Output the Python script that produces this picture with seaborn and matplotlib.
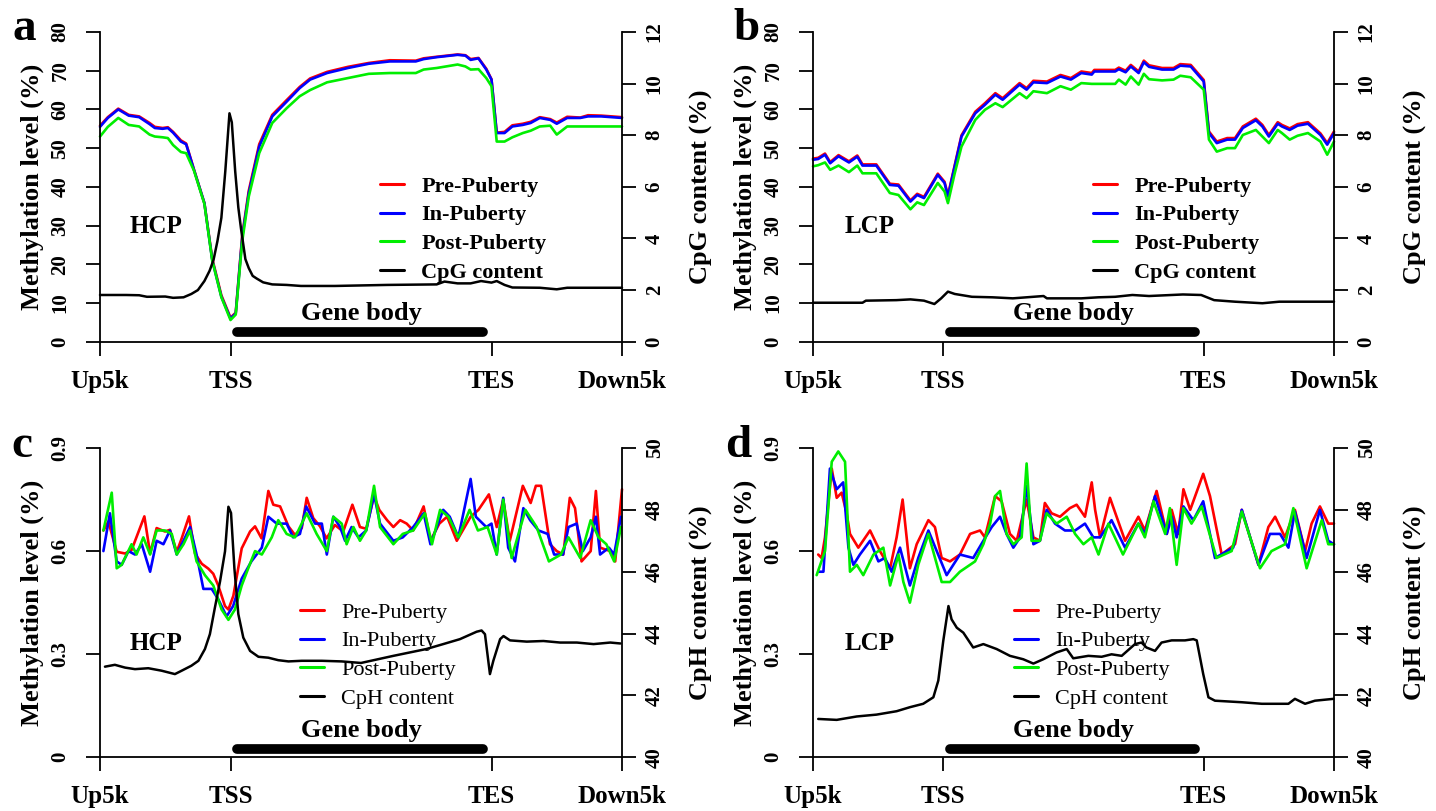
import matplotlib
matplotlib.use("Agg")
import matplotlib.pyplot as plt
import seaborn as sns
from matplotlib.lines import Line2D

# ---------------- DATA ----------------
x_tick_pos = [0, 50, 150, 200]
x_tick_labels = ["Up5k", "TSS", "TES", "Down5k"]
series_names = ["Pre-Puberty", "In-Puberty", "Post-Puberty"]
series_colors = ["#FF0000", "#0000FF", "#00EE00"]
gene_body = [52.5, 146.8]

# Panel a (HCP, CpG)
a_x = [0, 3, 7, 11, 15, 19, 21, 24, 26, 28, 31, 33, 36, 40, 43, 46.5, 50, 52, 54.5, 57, 61, 66, 71.5,
       76.5, 80.5, 87, 95, 103, 111, 121, 124, 129, 137, 140, 142, 145, 148, 150, 152, 155, 158, 162,
       165, 168.5, 172.5, 175, 179, 184, 187, 192, 200]
a_pre = [55.8, 58, 60.2, 58.6, 58.2, 56.5, 55.5, 55.2, 55.4, 54.2, 52, 51.2, 44.5, 35.8, 21.5, 12, 6.2,
         7.5, 27.5, 39, 51, 58.6, 62.4, 65.8, 68, 69.7, 71, 72, 72.7, 72.6, 73.2, 73.6, 74.2, 74, 73,
         73.3, 70.5, 67.8, 54, 54.2, 55.9, 56.3, 56.8, 58, 57.5, 56.6, 58.1, 57.9, 58.5, 58.4, 58]
a_in = [55.5, 57.8, 60, 58.4, 58, 56.2, 55.2, 55, 55.2, 54, 51.7, 51, 44.4, 35.8, 21.1, 11.6, 6, 7.3,
        27, 38.4, 50.4, 58.2, 62, 65.5, 67.7, 69.4, 70.7, 71.8, 72.4, 72.4, 73, 73.5, 74.1, 73.9, 72.8,
        73.2, 70.3, 67.7, 53.9, 53.9, 55.6, 56, 56.5, 57.8, 57.3, 56.3, 57.8, 57.8, 58.2, 58.2, 57.8]
a_post = [53, 55.5, 57.8, 56, 55.6, 53.5, 53, 52.8, 52.6, 50.8, 49, 48.7, 44.2, 35.6, 21, 11.5, 5.6, 7,
          26, 37.5, 48.7, 56.5, 60.3, 63.4, 65, 67, 68.1, 69.2, 69.4, 69.4, 70.3, 70.7, 71.6, 71.1,
          70.3, 70.4, 68.1, 66, 51.7, 51.7, 52.8, 53.9, 54.5, 55.6, 55.8, 53.5, 55.6, 55.6, 55.6, 55.6,
          55.6]
a_cpg_x = [0, 10, 15, 18, 25, 28, 32, 35, 37.5, 40, 42, 43.5, 45, 46.5, 48, 49.6, 50.5, 51.8, 53, 54,
           55.7, 57, 58.5, 60, 62.5, 66, 71.5, 77, 90, 110, 129, 132, 137, 142, 146, 150, 152, 155,
           158, 168.5, 175, 179, 200]
a_cpg = [1.81, 1.81, 1.80, 1.74, 1.75, 1.70, 1.72, 1.85, 2.0, 2.35, 2.75, 3.17, 3.9, 4.8, 6.6, 8.85,
         8.5, 6.6, 5.2, 4.4, 3.2, 2.85, 2.55, 2.45, 2.3, 2.22, 2.2, 2.16, 2.16, 2.2, 2.22, 2.33, 2.26,
         2.26, 2.35, 2.29, 2.35, 2.2, 2.1, 2.09, 2.03, 2.09, 2.09]

# Panel b (LCP, CpG)
b_x = [0, 2, 4.6, 6.6, 9.8, 13.8, 17, 19, 24.3, 29.5, 32.8, 37.4, 40, 42.6, 47.9, 50.5, 51.8, 54.4,
       57, 62.3, 66, 70, 72.8, 79.3, 82, 84.6, 89.8, 95, 99, 103, 107, 108, 116, 117.4, 120, 122,
       125, 127, 129, 134, 138.4, 141, 145, 150, 152, 155, 159, 162, 165, 170, 172.5, 175, 178.4,
       180, 183, 186, 190, 194.8, 197.4, 200]
b_pre = [47.3, 47.5, 48.6, 46.4, 48.2, 46.6, 48.1, 45.8, 45.8, 40.8, 40.6, 36.5, 38.2, 37.4, 43.4,
         41.3, 37.8, 45.6, 53.3, 59.4, 61.6, 64.2, 62.9, 66.8, 65.5, 67.4, 67.2, 68.9, 68.1, 69.8,
         69.4, 70.2, 70.2, 70.8, 70, 71.5, 69.8, 72.6, 71.4, 70.7, 70.7, 71.7, 71.5, 67.6, 54.3, 51.7,
         52.6, 52.6, 55.6, 57.6, 56, 53.4, 56.7, 56, 55.1, 56.2, 56.7, 53.8, 51.3, 54.3]
b_in = [47, 47.2, 48.3, 46.1, 47.9, 46.3, 47.8, 45.5, 45.5, 40.5, 40.3, 36.2, 37.9, 37.1, 43.1, 41,
        37.5, 45.3, 53, 59, 61.2, 63.8, 62.5, 66.4, 65.1, 67, 66.8, 68.5, 67.7, 69.4, 69, 69.8, 69.8,
        70.4, 69.6, 71.1, 69.4, 72.2, 71, 70.3, 70.3, 71.3, 71.1, 67.2, 53.9, 51.3, 52.2, 52.2, 55.2,
        57.2, 55.6, 53, 56.3, 55.6, 54.7, 55.8, 56.3, 53.4, 50.9, 53.9]
b_post = [45.3, 45.6, 46.3, 44.4, 45.5, 43.8, 45.5, 43.5, 43.5, 38.4, 37.9, 34.2, 36, 35.3, 41, 38.8,
          35.8, 43.5, 50.4, 57.3, 59.9, 61.6, 60.6, 64.2, 62.9, 64.7, 64.2, 66, 65.1, 66.8, 66.6,
          66.6, 66.6, 67.7, 66.4, 68.5, 66.4, 69.2, 67.8, 67.5, 67.7, 68.7, 68.3, 65.1, 52.2, 49.1,
          50, 50, 53.4, 54.7, 53, 51.3, 54.7, 53.9, 52.2, 53.2, 53.9, 51.7, 48.3, 51.7]
b_cpg_x = [0, 19, 20.3, 32, 37.4, 42.6, 46.6, 49.2, 51.8, 54.4, 61, 68.9, 76.7, 88.5, 89.8, 103,
           109.5, 116, 122.6, 129, 142, 149, 154, 162, 172.5, 179, 200]
b_cpg = [1.51, 1.51, 1.59, 1.61, 1.64, 1.59, 1.46, 1.68, 1.94, 1.85, 1.74, 1.72, 1.68, 1.77, 1.68,
         1.68, 1.72, 1.74, 1.81, 1.77, 1.83, 1.81, 1.61, 1.55, 1.49, 1.55, 1.55]

# Panel c (HCP, CpH)
c_pre_x = [1.3, 3.2, 6.4, 9.6, 12.1, 17, 19.2, 21.7, 24.9, 26.8, 29.4, 31.3, 34.1, 36.4, 39, 41.5,
           43.4, 45.3, 47.9, 49.2, 51.1, 54.3, 57.5, 59.4, 61.9, 64.5, 66.4, 69, 72.2, 74.7, 77.3,
           79.2, 81.7, 84.3, 86.8, 90, 93.2, 96.7, 99.6, 102, 105, 107, 110, 112.4, 115, 117.5, 120,
           124, 126.6, 130, 133, 136.7, 142, 145, 149, 152, 154.5, 157, 162, 165, 167, 169, 172.4,
           175, 177.5, 180, 182, 184.5, 188, 190, 191.6, 195.5, 197.4, 200]
c_pre = [0.66, 0.686, 0.598, 0.593, 0.603, 0.701, 0.593, 0.667, 0.657, 0.662, 0.598, 0.637, 0.701,
         0.593, 0.563, 0.549, 0.534, 0.5, 0.44, 0.43, 0.47, 0.608, 0.657, 0.672, 0.637, 0.775,
         0.735, 0.73, 0.672, 0.647, 0.667, 0.755, 0.696, 0.672, 0.637, 0.676, 0.657, 0.735, 0.67,
         0.665, 0.76, 0.72, 0.69, 0.67, 0.69, 0.68, 0.66, 0.73, 0.63, 0.68, 0.70, 0.63, 0.70, 0.72,
         0.765, 0.67, 0.75, 0.63, 0.79, 0.74, 0.79, 0.79, 0.62, 0.60, 0.59, 0.755, 0.725, 0.57,
         0.60, 0.775, 0.61, 0.60, 0.57, 0.78]
c_in_x = [1.3, 3.8, 6.4, 8.3, 10.9, 13.4, 16, 19.2, 21.7, 24.3, 26.8, 29.4, 32, 34.5, 37, 39.6, 42.8,
          45.3, 48.5, 51, 54.3, 58, 62, 64.5, 67.7, 71.5, 74, 76.6, 79, 82.4, 85, 86.9, 89.4, 92,
          93.9, 96.4, 99, 102, 105, 107.3, 112.4, 116, 120, 124, 126.6, 131.5, 134, 137.3, 142, 144,
          148, 150, 152, 154.5, 156.4, 159, 162.2, 164.8, 168, 171.5, 174, 177.4, 179.5, 182.6, 185,
          188, 190, 191.6, 195, 197, 199.6]
c_in = [0.60, 0.71, 0.57, 0.56, 0.60, 0.59, 0.62, 0.54, 0.63, 0.62, 0.66, 0.59, 0.63, 0.67, 0.59,
        0.49, 0.49, 0.46, 0.41, 0.44, 0.52, 0.57, 0.61, 0.70, 0.68, 0.68, 0.64, 0.65, 0.73, 0.68,
        0.68, 0.59, 0.70, 0.67, 0.63, 0.67, 0.64, 0.66, 0.765, 0.68, 0.63, 0.64, 0.67, 0.71, 0.62,
        0.72, 0.70, 0.64, 0.81, 0.70, 0.67, 0.68, 0.59, 0.755, 0.61, 0.57, 0.725, 0.69, 0.66, 0.65,
        0.59, 0.59, 0.67, 0.68, 0.60, 0.64, 0.70, 0.59, 0.61, 0.59, 0.70]
c_post_x = [1.3, 4.5, 6.4, 8.3, 12.1, 14, 16.6, 19.2, 21.7, 24.9, 27.5, 29.4, 32, 34.5, 37, 40.2,
            43.4, 46.6, 49.2, 51.7, 54.3, 56.8, 59.4, 62, 65.8, 68.3, 71.5, 74.7, 79.2, 83, 86.9,
            89.4, 92.6, 94.5, 97.1, 99.6, 102, 105, 107.3, 112.4, 116, 120, 124.5, 127.2, 130.3,
            133.5, 137.3, 141.6, 144.8, 148.5, 152, 154.5, 157.7, 163, 167.3, 172, 176.6, 179.5,
            184, 188, 191, 194, 197, 199.6]
c_post = [0.66, 0.77, 0.55, 0.56, 0.62, 0.59, 0.64, 0.59, 0.66, 0.66, 0.65, 0.59, 0.62, 0.66, 0.57,
          0.53, 0.50, 0.43, 0.40, 0.43, 0.50, 0.55, 0.60, 0.59, 0.64, 0.69, 0.65, 0.64, 0.71, 0.65,
          0.60, 0.70, 0.68, 0.62, 0.67, 0.63, 0.66, 0.79, 0.67, 0.62, 0.65, 0.66, 0.71, 0.62, 0.72,
          0.70, 0.64, 0.72, 0.66, 0.67, 0.59, 0.75, 0.58, 0.72, 0.67, 0.57, 0.59, 0.64, 0.58, 0.69,
          0.64, 0.62, 0.57, 0.67]
c_cph_x = [1.9, 5.7, 9.6, 13.4, 18.5, 23.6, 28.7, 31.3, 35, 37.7, 40.2, 42.1, 44, 46, 47.9, 49.2,
           50.2, 51.5, 53, 54.9, 57.5, 60.7, 64.5, 68.3, 72.2, 77.3, 85, 92.6, 100, 112.4, 125,
           131.5, 137.9, 144.3, 146.2, 147.5, 149.4, 150.7, 153.3, 154.6, 157.1, 163.5, 169.9,
           176.3, 182.7, 189.1, 195.5, 199.4]
c_cph = [42.93, 42.99, 42.9, 42.85, 42.88, 42.8, 42.69, 42.8, 42.96, 43.12, 43.5, 43.98, 44.83,
         45.69, 46.66, 48.1, 47.9, 46.1, 44.63, 43.87, 43.44, 43.25, 43.22, 43.14, 43.1, 43.12,
         43.12, 43.1, 43.05, 43.28, 43.5, 43.66, 43.82, 44.06, 44.1, 43.98, 42.69, 43.12, 43.82,
         43.92, 43.78, 43.74, 43.76, 43.71, 43.71, 43.66, 43.71, 43.68]

# Panel d (LCP, CpH)
d_pre_x = [2, 3.3, 4.6, 7.2, 9.1, 11, 12.9, 14.2, 17.4, 21.9, 25.7, 29.6, 32.1, 34.4, 37.2, 39.8,
           44.3, 46.8, 49.4, 52.6, 56.4, 60.3, 64.1, 66, 69.9, 72.4, 75.6, 78.2, 82, 84.6, 87.1, 89,
           91.6, 94.8, 98.6, 101.2, 104.4, 107, 108.3, 110.2, 114, 119.8, 124.9, 127.4, 131.9,
           135.8, 137.7, 140.2, 142.2, 144.8, 149.8, 152.4, 156.9, 162, 164.6, 171, 174.8, 177.4,
           181.2, 185, 188.9, 191.4, 194.6, 197.8, 200]
d_pre = [0.59, 0.58, 0.64, 0.84, 0.755, 0.77, 0.71, 0.65, 0.61, 0.66, 0.60, 0.55, 0.64, 0.75, 0.55,
         0.62, 0.69, 0.67, 0.58, 0.57, 0.59, 0.65, 0.66, 0.64, 0.76, 0.745, 0.65, 0.63, 0.75, 0.64,
         0.63, 0.74, 0.71, 0.70, 0.725, 0.735, 0.70, 0.80, 0.72, 0.64, 0.755, 0.63, 0.70, 0.66,
         0.775, 0.65, 0.72, 0.65, 0.78, 0.72, 0.825, 0.76, 0.59, 0.62, 0.72, 0.56, 0.67, 0.70, 0.64,
         0.72, 0.60, 0.68, 0.73, 0.68, 0.68]
d_in_x = [2, 4, 6.5, 9.1, 11.6, 13.6, 15.5, 18, 21.9, 25.1, 27.6, 30.2, 33.4, 37.2, 40.4, 44.3,
          47.5, 51.3, 56.4, 61.5, 65.4, 68.6, 71.8, 74.3, 76.9, 79.5, 82, 84.6, 87.1, 89.7, 92.9,
          96.7, 100.6, 104.4, 107.6, 110.2, 114.6, 119.8, 124.9, 127.4, 131.3, 135.8, 137.7, 139.6,
          142.2, 146, 149.8, 154.3, 161.3, 164.6, 171, 175.4, 179.3, 182.5, 185, 189.5, 194.6,
          197.8, 200]
d_in = [0.54, 0.54, 0.84, 0.78, 0.80, 0.61, 0.56, 0.59, 0.63, 0.57, 0.58, 0.54, 0.61, 0.50, 0.58,
        0.66, 0.60, 0.53, 0.59, 0.58, 0.63, 0.67, 0.70, 0.65, 0.61, 0.64, 0.79, 0.62, 0.63, 0.72,
        0.68, 0.66, 0.66, 0.68, 0.64, 0.64, 0.69, 0.61, 0.68, 0.65, 0.76, 0.65, 0.70, 0.64, 0.73,
        0.69, 0.745, 0.58, 0.61, 0.72, 0.56, 0.65, 0.65, 0.61, 0.715, 0.58, 0.72, 0.63, 0.62]
d_post_x = [1.4, 4.6, 7.2, 9.7, 12.3, 14.2, 16.8, 19.3, 23.2, 27, 29.6, 32.8, 34.7, 37.2, 40.4, 44.3,
            49.4, 52.6, 56.4, 62.2, 65.4, 68, 69.9, 71.8, 74.3, 76.9, 80.1, 82, 83.9, 87.1, 89.7,
            93.5, 97.4, 100.6, 103.8, 107, 109.6, 113.4, 119, 124.9, 127.4, 130.7, 135.2, 137,
            139.6, 142.2, 145.3, 149.2, 154.9, 160.7, 164.6, 171.6, 176, 181.2, 184.4, 189.5, 195.3,
            197.8, 200]
d_post = [0.53, 0.60, 0.86, 0.89, 0.86, 0.54, 0.56, 0.53, 0.59, 0.61, 0.50, 0.59, 0.51, 0.45, 0.56,
          0.65, 0.51, 0.51, 0.54, 0.57, 0.62, 0.68, 0.76, 0.775, 0.65, 0.62, 0.64, 0.855, 0.63, 0.63,
          0.71, 0.68, 0.70, 0.65, 0.62, 0.64, 0.59, 0.68, 0.59, 0.68, 0.64, 0.745, 0.65, 0.725, 0.56,
          0.725, 0.68, 0.73, 0.58, 0.60, 0.715, 0.55, 0.60, 0.62, 0.725, 0.55, 0.69, 0.62, 0.62]
d_cph_x = [2, 9.1, 16.8, 24.4, 32.1, 37.2, 42.3, 46.2, 48.1, 50, 52, 53.2, 55.2, 57.7, 61.5, 65.4,
           70.5, 75.6, 80.7, 84.6, 88.4, 93.5, 97.4, 99.9, 105.7, 110.8, 114.6, 118.5, 123.6, 126.1,
           128, 131.3, 133.8, 137.7, 142.8, 146, 147.3, 149.8, 151.8, 154.3, 164.6, 172.3, 182.5,
           185, 188.9, 192.7, 199.8]
d_cph = [41.24, 41.21, 41.32, 41.38, 41.49, 41.62, 41.73, 41.94, 42.48, 43.76, 44.89, 44.46, 44.19,
         44.03, 43.55, 43.66, 43.5, 43.28, 43.17, 43.03, 43.17, 43.39, 43.5, 43.2, 43.28, 43.25,
         43.33, 43.28, 43.66, 43.71, 43.55, 43.44, 43.71, 43.78, 43.78, 43.82, 43.78, 42.69, 41.94,
         41.83, 41.78, 41.73, 41.73, 41.89, 41.73, 41.83, 41.89]

# ---------------- STYLE ----------------
sns.set_style("ticks")
plt.rcParams['font.family'] = ['Liberation Serif', 'DejaVu Serif']
plt.rcParams.update({'axes.edgecolor': 'black', 'text.color': 'black', 'xtick.color': 'black',
                     'ytick.color': 'black', 'axes.labelcolor': 'black'})

W, H = 1436, 811
fig = plt.figure(figsize=(W / 100, H / 100), dpi=100)

LW_AX = 1.3
TICK_LEN = 10.3


def add_px_axes(left, right, top, bottom):
    return fig.add_axes([left / W, 1 - bottom / H, (right - left) / W, (bottom - top) / H])


def panel(box, meth, content, ylim_l, yt_l, ytl_l, ylim_r, yt_r, ylabel_r, region,
          region_y, gene_text_y, gene_bar_y, legend_xy, legend_bold, letter, letter_xy,
          rlabel_x, pad_l, pad_r):
    ax = add_px_axes(*box)
    for (xs, ys), col in zip(meth, series_colors):
        sns.lineplot(x=xs, y=ys, ax=ax, color=col, linewidth=1.9, sort=False,
                     estimator=None, legend=False, clip_on=False)
    ax.plot(gene_body, [gene_bar_y, gene_bar_y], color='black', linewidth=7,
            solid_capstyle='round', clip_on=False)
    ax.text(100, gene_text_y, "Gene body", ha='center', va='baseline', fontsize=19,
            fontweight='bold')
    ax.text(21.6, region_y, region, ha='center', va='baseline', fontsize=18, fontweight='bold')

    ax.set_xlim(0, 200)
    ax.set_ylim(*ylim_l)
    ax.set_xticks(x_tick_pos, labels=x_tick_labels, fontsize=18, fontweight='bold')
    ax.set_yticks(yt_l, labels=ytl_l, fontsize=15, fontweight='bold', rotation=90, va='center')
    ax.tick_params(axis='x', direction='out', length=TICK_LEN, width=LW_AX, pad=10)
    ax.tick_params(axis='y', direction='out', length=TICK_LEN, width=LW_AX, pad=pad_l)
    for s in ['top', 'right']:
        ax.spines[s].set_visible(False)
    for s in ['left', 'bottom']:
        ax.spines[s].set_linewidth(LW_AX)
    ax.set_xlabel("")
    ax.set_ylabel("Methylation level (%)", fontsize=19, fontweight='bold')
    ax.yaxis.set_label_coords(-0.107, 0.5)

    ax2 = ax.twinx()
    cx, cy = content
    sns.lineplot(x=cx, y=cy, ax=ax2, color='black', linewidth=1.8, sort=False,
                 estimator=None, legend=False, clip_on=False)
    ax2.set_xlim(0, 200)
    ax2.set_ylim(*ylim_r)
    ax2.set_yticks(yt_r, labels=[str(v) for v in yt_r], fontsize=15, fontweight='bold',
                   rotation=90, va='center')
    ax2.tick_params(axis='y', direction='out', length=TICK_LEN, width=LW_AX, pad=pad_r)
    for s in ['top', 'left', 'bottom']:
        ax2.spines[s].set_visible(False)
    ax2.spines['right'].set_linewidth(LW_AX)
    ax2.set_ylabel(ylabel_r, fontsize=19, fontweight='bold')
    ax2.yaxis.set_label_coords(rlabel_x, 0.5)

    handles = [Line2D([], [], color=c, linewidth=2.2) for c in series_colors]
    handles.append(Line2D([], [], color='black', linewidth=2.2))
    labels = series_names + [ylabel_r.replace(" (%)", "")]
    ax.legend(handles, labels, loc='upper left',
              bbox_to_anchor=(legend_xy[0] / W, 1 - legend_xy[1] / H),
              bbox_transform=fig.transFigure, frameon=False, borderpad=0, borderaxespad=0,
              handlelength=1.1, handletextpad=0.75, labelspacing=0.37,
              prop={'weight': 'bold' if legend_bold else 'normal', 'size': 16})

    fig.text(letter_xy[0] / W, 1 - letter_xy[1] / H, letter, fontsize=34, fontweight='bold',
             ha='left', va='baseline')
    return ax, ax2


panel((100, 622, 32, 341.7),
      [(a_x, a_pre), (a_x, a_in), (a_x, a_post)], (a_cpg_x, a_cpg),
      (0, 80), list(range(0, 81, 10)), [str(v) for v in range(0, 81, 10)],
      (0, 12), [0, 2, 4, 6, 8, 10, 12], "CpG content (%)", "HCP", 28.0, 5.6, 2.4,
      (380, 176), True, "a", (13, 40), 1.13, 11, 6)

panel((813, 1334, 32, 341.7),
      [(b_x, b_pre), (b_x, b_in), (b_x, b_post)], (b_cpg_x, b_cpg),
      (0, 80), list(range(0, 81, 10)), [str(v) for v in range(0, 81, 10)],
      (0, 12), [0, 2, 4, 6, 8, 10, 12], "CpG content (%)", "LCP", 28.0, 5.6, 2.4,
      (1093, 176), True, "b", (733, 40), 1.135, 11, 6)

panel((100, 622, 448, 757.3),
      [(c_pre_x, c_pre), (c_in_x, c_in), (c_post_x, c_post)], (c_cph_x, c_cph),
      (0, 0.9), [0, 0.3, 0.6, 0.9], ["0", "0.3", "0.6", "0.9"],
      (40, 50), [40, 42, 44, 46, 48, 50], "CpH content (%)", "HCP", 0.3125, 0.06, 0.025,
      (300, 602), False, "c", (11, 457), 1.13, 11, 6)

panel((813, 1334, 448, 757.3),
      [(d_pre_x, d_pre), (d_in_x, d_in), (d_post_x, d_post)], (d_cph_x, d_cph),
      (0, 0.9), [0, 0.3, 0.6, 0.9], ["0", "0.3", "0.6", "0.9"],
      (40, 50), [40, 42, 44, 46, 48, 50], "CpH content (%)", "LCP", 0.3125, 0.06, 0.025,
      (1014, 602), False, "d", (725, 457), 1.135, 11, 6)

fig.savefig("out.png", dpi=100)
